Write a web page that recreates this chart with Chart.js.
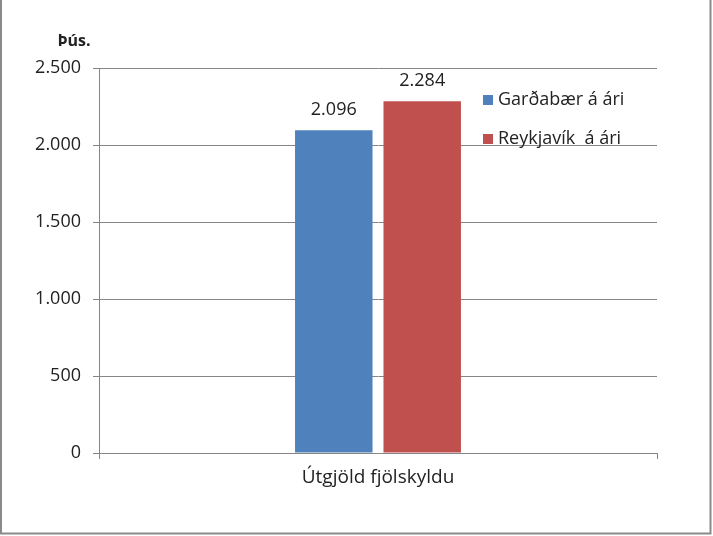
<!DOCTYPE html>
<html>
<head>
<meta charset="utf-8">
<script src="https://cdnjs.cloudflare.com/ajax/libs/Chart.js/4.4.1/chart.umd.min.js"></script>
<style>
  html,body{margin:0;padding:0;background:#fff;}
  #wrap{position:relative;width:713px;height:536px;}
</style>
</head>
<body>
<div id="wrap"><canvas id="c" width="713" height="536"></canvas></div>
<script>
// Útgjöld fjölskyldu, þús. kr á ári
const CATEGORIES = ['Útgjöld fjölskyldu'];
const SERIES_NAMES = ['Garðabær á ári', 'Reykjavík  á ári'];
const GARDABAER = [2096];
const REYKJAVIK = [2284];
const Y_TICKS = [0, 500, 1000, 1500, 2000, 2500];
const UNIT = 'Þús.';

const FONT = '"Open Sans", "DejaVu Sans", sans-serif';
const AXIS = '#868686';
const fmt = v => v.toLocaleString('de-DE');

// value labels above the bars
const valueLabels = {
  id:'valueLabels',
  afterDatasetsDraw(chart){
    const ctx = chart.ctx;
    ctx.save();
    ctx.font = '18px ' + FONT;
    ctx.fillStyle = '#222';
    ctx.textAlign = 'center';
    ctx.textBaseline = 'bottom';
    chart.data.datasets.forEach((ds,i)=>{
      chart.getDatasetMeta(i).data.forEach((bar,j)=>{
        ctx.fillText(fmt(ds.data[j]), bar.x, bar.y - 11);
      });
    });
    ctx.restore();
  }
};

// legend sitting inside the plot, right of the bars, plus frame and unit title
const extras = {
  id:'extras',
  afterDraw(chart){
    const ctx = chart.ctx;
    ctx.save();
    ctx.font = '18px ' + FONT;
    ctx.textBaseline = 'middle';
    ctx.textAlign = 'left';
    chart.data.datasets.forEach((ds,i)=>{
      const y = 100 + i*39;
      ctx.fillStyle = ds.backgroundColor;
      ctx.fillRect(483, y-5, 10, 10);
      ctx.fillStyle = '#222';
      ctx.fillText(ds.label, 498, y);
    });
    ctx.font = 'bold 16px ' + FONT;
    ctx.textAlign = 'center';
    ctx.fillText(UNIT, 74, 41);
    // outer frame
    ctx.strokeStyle = '#8a8a8a';
    ctx.lineWidth = 2;
    ctx.beginPath();
    ctx.moveTo(1, 0); ctx.lineTo(1, 533.5); ctx.lineTo(710.5, 533.5); ctx.lineTo(710.5, 0);
    ctx.stroke();
    ctx.restore();
  }
};

new Chart(document.getElementById('c'), {
  type:'bar',
  data:{
    labels:CATEGORIES,
    datasets:[
      {label:SERIES_NAMES[0], data:GARDABAER, backgroundColor:'#4F81BD'},
      {label:SERIES_NAMES[1], data:REYKJAVIK, backgroundColor:'#C0504D'}
    ]
  },
  options:{
    responsive:false,
    animation:false,
    devicePixelRatio:1,
    layout:{padding:{top:68, right:56, left:0, bottom:0}},
    datasets:{bar:{categoryPercentage:0.317, barPercentage:0.876}},
    plugins:{legend:{display:false}, tooltip:{enabled:false}},
    scales:{
      x:{
        grid:{display:true, drawOnChartArea:false, color:AXIS, tickLength:6, tickColor:AXIS},
        border:{color:AXIS, width:1},
        ticks:{color:'#222', font:{family:FONT, size:19}, padding:7},
        afterFit(a){ a.height = 83; }
      },
      y:{
        min:0, max:2500,
        afterBuildTicks(a){ a.ticks = Y_TICKS.map(v=>({value:v})); },
        grid:{color:AXIS, tickLength:6, tickColor:AXIS},
        border:{color:AXIS, width:1},
        ticks:{color:'#222', font:{family:FONT, size:18}, padding:12, callback:v=>fmt(v)},
        afterFit(a){ a.width = 99; }
      }
    }
  },
  plugins:[valueLabels, extras]
});
</script>
</body>
</html>
